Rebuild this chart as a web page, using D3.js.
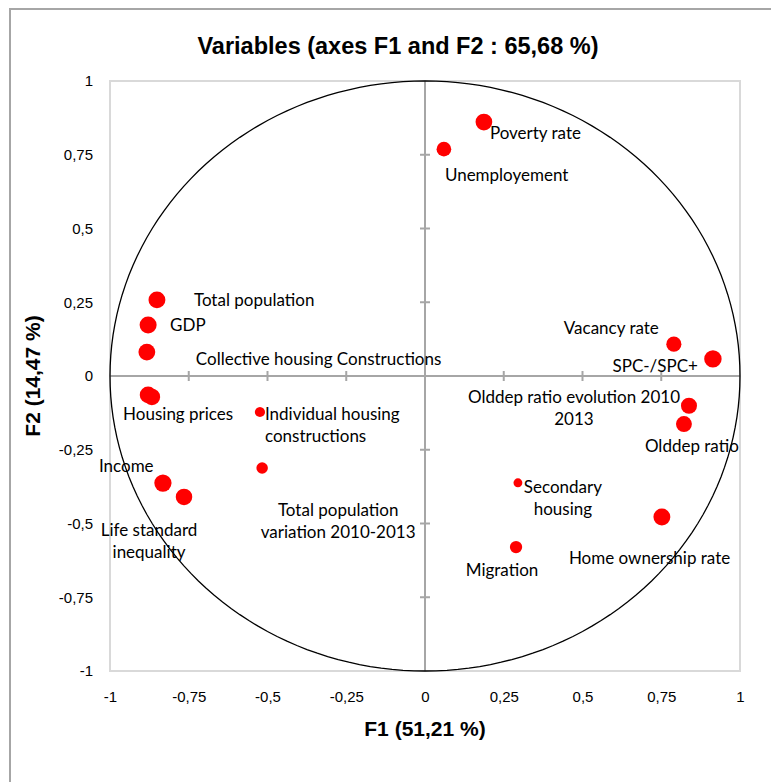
<!DOCTYPE html>
<html>
<head>
<meta charset="utf-8">
<script src="https://cdn.jsdelivr.net/npm/d3@7"></script>
<style>
	body { margin: 0; background: #fff; }
	.narrow { font-family: "Liberation Sans", Arial, sans-serif; }
	.lbl { font-family: Lato, "Open Sans", sans-serif; font-size: 17px; fill: #000; }
</style>
</head>
<body>
<div id="chart"></div>
<script>
	// variables (F1, F2 correlations)
	var names = ["Total population", "GDP", "Collective housing Constructions", "Housing prices", "",
		"Individual housing\nconstructions", "Total population\nvariation 2010-2013", "Income",
		"Life standard\ninequality", "Poverty rate", "Unemployement", "Vacancy rate", "SPC-/SPC+",
		"Olddep ratio evolution 2010\n2013", "Olddep ratio", "Secondary\nhousing", "Migration",
		"Home ownership rate"];
	var f1 = [-0.851, -0.879, -0.883, -0.879, -0.867, -0.524, -0.517, -0.832, -0.765, 0.187, 0.060,
		0.790, 0.914, 0.838, 0.822, 0.295, 0.289, 0.752];
	var f2 = [0.258, 0.173, 0.081, -0.064, -0.071, -0.122, -0.312, -0.363, -0.410, 0.861, 0.769,
		0.108, 0.058, -0.101, -0.163, -0.362, -0.580, -0.478];
	var tickValues = [-1, -0.75, -0.5, -0.25, 0, 0.25, 0.5, 0.75, 1];

	// label placement relative to the point: dx, dy, anchor
	var labelLayout = [
		[37, 6, "start"], [22, 6, "start"], [49, 13, "start"], [-25, 25, "start"], [0, 0, "start"],
		[5, 8, "start"], [76, 48, "middle"], [-64, -11, "start"], [-35, 39, "middle"],
		[6, 17, "start"], [1, 32, "start"], [-15, -10, "end"], [-15, 13, "end"],
		[-115, -3, "middle"], [-39, 28, "start"], [45, 10, "middle"], [-14, 29, "middle"],
		[-93, 47, "start"]
	];

	var width = 771,
		height = 782;

	var svg = d3.select("#chart")
		.append("svg")
		.attr("width", width)
		.attr("height", height);

	var x = d3.scaleLinear().domain([-1, 1]).range([110, 740]);
	var y = d3.scaleLinear().domain([-1, 1]).range([671, 81]);

	var fmt = d3.formatLocale({decimal: ",", thousands: ".", grouping: [3], currency: ["", ""], minus: "-"}).format("~g");

	// outer chart border
	svg.append("rect")
		.attr("x", 10).attr("y", 9)
		.attr("width", 800).attr("height", 800)
		.attr("fill", "none")
		.attr("stroke", "#a6a6a6")
		.attr("stroke-width", 2);

	svg.append("text")
		.attr("class", "narrow")
		.attr("x", 398).attr("y", 54)
		.attr("text-anchor", "middle")
		.style("font-weight", "bold")
		.style("font-size", "23.5px")
		.text("Variables (axes F1 and F2 : 65,68 %)");

	// plot frame
	svg.append("rect")
		.attr("x", x(-1)).attr("y", y(1))
		.attr("width", x(1) - x(-1)).attr("height", y(-1) - y(1))
		.attr("fill", "none")
		.attr("stroke", "#d9d9d9")
		.attr("stroke-width", 2);

	// zero axes
	svg.append("line")
		.attr("x1", x(-1)).attr("x2", x(1))
		.attr("y1", y(0)).attr("y2", y(0))
		.attr("stroke", "#a6a6a6").attr("stroke-width", 2);
	svg.append("line")
		.attr("x1", x(0)).attr("x2", x(0))
		.attr("y1", y(-1)).attr("y2", y(1))
		.attr("stroke", "#a6a6a6").attr("stroke-width", 2);

	var inner = tickValues.filter(function(d) { return d !== 0 && Math.abs(d) !== 1; });
	svg.selectAll(".ytick").data(inner).enter().append("line")
		.attr("x1", x(0) - 5).attr("x2", x(0) + 5)
		.attr("y1", function(d) { return y(d); })
		.attr("y2", function(d) { return y(d); })
		.attr("stroke", "#a6a6a6").attr("stroke-width", 2);
	svg.selectAll(".xtick").data(inner).enter().append("line")
		.attr("y1", y(0) - 5).attr("y2", y(0) + 5)
		.attr("x1", function(d) { return x(d); })
		.attr("x2", function(d) { return x(d); })
		.attr("stroke", "#a6a6a6").attr("stroke-width", 2);

	// tick labels
	var yAxis = svg.append("g")
		.attr("transform", "translate(" + x(-1) + ",0)")
		.call(d3.axisLeft(y).tickValues(tickValues).tickFormat(fmt).tickSize(0).tickPadding(17));
	var xAxis = svg.append("g")
		.attr("transform", "translate(0," + y(-1) + ")")
		.call(d3.axisBottom(x).tickValues(tickValues).tickFormat(fmt).tickSize(0).tickPadding(20));
	[yAxis, xAxis].forEach(function(g) {
		g.select(".domain").remove();
		g.selectAll("text")
			.attr("class", "narrow")
			.style("font-size", "15px")
			.attr("fill", "#000");
	});

	// axis titles
	svg.append("text")
		.attr("class", "narrow")
		.attr("x", x(0)).attr("y", 736)
		.attr("text-anchor", "middle")
		.style("font-weight", "bold").style("font-size", "21px")
		.text("F1 (51,21 %)");
	svg.append("text")
		.attr("class", "narrow")
		.attr("transform", "translate(40," + y(0) + ") rotate(-90)")
		.attr("text-anchor", "middle")
		.style("font-weight", "bold").style("font-size", "21px")
		.text("F2 (14,47 %)");

	// correlation circle
	var angles = d3.range(0, 361, 2);
	svg.append("path")
		.datum(angles)
		.attr("d", d3.line()
			.x(function(a) { return x(Math.cos(a * Math.PI / 180)); })
			.y(function(a) { return y(Math.sin(a * Math.PI / 180)); }))
		.attr("fill", "none")
		.attr("stroke", "#000")
		.attr("stroke-width", 1.3);

	var data = names.map(function(n, i) {
		return {name: n, f1: f1[i], f2: f2[i], lay: labelLayout[i]};
	});

	// marker size follows the squared cosine on the plane
	var r = d3.scaleSqrt().domain([0, 1]).range([0, 9.5]);

	svg.selectAll(".pt")
		.data(data)
		.enter().append("circle")
		.attr("class", "pt")
		.attr("cx", function(d) { return x(d.f1); })
		.attr("cy", function(d) { return y(d.f2); })
		.attr("r", function(d) { return r(d.f1 * d.f1 + d.f2 * d.f2); })
		.attr("fill", "#ff0000");

	var labels = svg.selectAll(".lbl")
		.data(data.filter(function(d) { return d.name; }))
		.enter().append("text")
		.attr("class", "lbl")
		.attr("text-anchor", function(d) { return d.lay[2]; })
		.attr("x", function(d) { return x(d.f1) + d.lay[0]; })
		.attr("y", function(d) { return y(d.f2) + d.lay[1]; });

	labels.selectAll("tspan")
		.data(function(d) {
			return d.name.split("\n").map(function(t) { return {t: t, px: x(d.f1) + d.lay[0]}; });
		})
		.enter().append("tspan")
		.attr("x", function(d) { return d.px; })
		.attr("dy", function(d, i) { return i ? 22 : 0; })
		.text(function(d) { return d.t; });
</script>
</body>
</html>
